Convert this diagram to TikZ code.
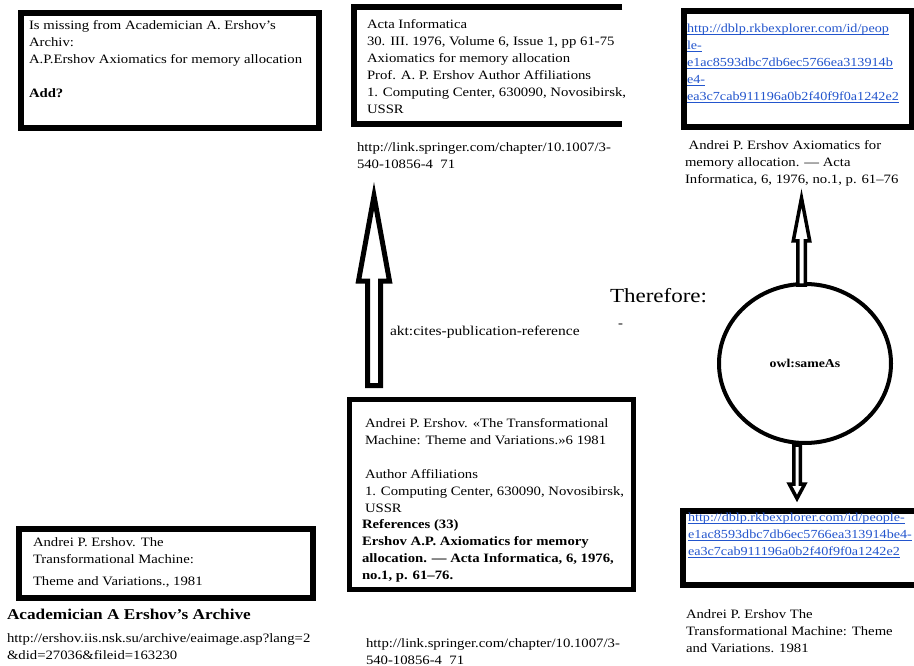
\documentclass[tikz,border=0pt]{standalone}
\usepackage{fontspec}
\setmainfont{Liberation Serif}[FakeStretch=1.15]
\usetikzlibrary{calc,shapes.geometric}
\definecolor{linkblue}{RGB}{35,85,205}
\newcommand\txtblk[1]{\begin{tabular}[t]{@{}l@{}}#1\end{tabular}}
\newcommand\bodyfont{\fontsize{12.8}{17}\selectfont}
\newcommand\linkfont{\fontsize{12.3}{17}\selectfont}
\newcommand\lnk[1]{\textcolor{linkblue}{\setbox0\hbox{#1}\rlap{\rule[-2.3pt]{\wd0}{0.8pt}}\box0}}
\newcommand\blockarrow[6]{%
  \draw[#1] ($(#2)+(-#4,0)$) -- ($(#3)+(-#4,#6)$) -- ($(#3)+(-#5,#6)$) -- (#3)
    -- ($(#3)+(#5,#6)$) -- ($(#3)+(#4,#6)$) -- ($(#2)+(#4,0)$) -- cycle;}
\tikzset{
  txt/.style={anchor=base west, inner sep=0pt, outer sep=0pt, font=\bodyfont},
  boxnode/.style={draw, line width=#1, anchor=north west, inner sep=0pt, line join=miter},
  boxnode/.default=6pt,
  frame/.style={draw=none, anchor=north west, inner sep=0pt},
  sideline/.style={line width=6pt, line join=miter},
  blk/.style={draw=black, fill=white, line width=#1, line join=miter, miter limit=20},
  blk/.default=5pt
}
\begin{document}
\begin{tikzpicture}[x=1pt,y=-1pt]
\useasboundingbox (0,0) rectangle (914,666);
\fill[white] (0,0) rectangle (914,666);
\clip (0,0) rectangle (914,666);

% boxes
\node[boxnode, minimum width=298pt, minimum height=115pt] (b1) at (18,10) {};
\node[frame, minimum width=268pt, minimum height=117pt] (b2) at (354,7) {};
\draw[sideline] (b2.north east) -- (b2.north west) -- (b2.south west) -- (b2.south east);
\node[boxnode, minimum width=228pt, minimum height=116pt] (b3) at (681,8) {};
\node[boxnode=5pt, minimum width=284pt, minimum height=190pt] (b4) at (346.5,396.5) {};
\node[boxnode=5.5pt, minimum width=294pt, minimum height=69pt] (b5) at (16,526) {};
\node[boxnode, minimum width=250pt, minimum height=74pt] (b6) at (680,508) {};

% circle
\node[draw, ellipse, line width=4pt, minimum width=172pt, minimum height=159pt, inner sep=0pt,
      font=\fontsize{12}{14}\selectfont\bfseries] (same) at (805,363.5) {owl:sameAs};

% texts
\node[txt] (t1) at (29,30) {\txtblk{Is missing from Academician A. Ershov's\\ Archiv:\\ A.P.Ershov Axiomatics for memory allocation\\ \\ \textbf{Add?}}};
\node[txt] (t2) at (367,29) {\txtblk{Acta Informatica\\ 30. III. 1976, Volume 6, Issue 1, pp 61-75\\ Axiomatics for memory allocation\\ Prof. A. P. Ershov Author Affiliations\\ 1. Computing Center, 630090, Novosibirsk,\\ USSR}};
\node[txt] (u2) at (357,152) {\txtblk{http://link.springer.com/chapter/10.1007/3-\\ 540-10856-4\ \ 71}};
\node[txt, font=\linkfont] (t3) at (687,33) {\txtblk{\lnk{http://dblp.rkbexplorer.com/id/peop}\\ \lnk{le-}\\ \lnk{e1ac8593dbc7db6ec5766ea313914b}\\ \lnk{e4-}\\ \lnk{ea3c7cab911196a0b2f40f9f0a1242e2}}};
\node[txt] (c3) at (685,150) {\txtblk{\ Andrei P. Ershov Axiomatics for\\ memory allocation. — Acta\\ Informatica, 6, 1976, no.1, p. 61–76}};
\node[txt, font=\fontsize{13.5}{16}\selectfont] (akt) at (390,335) {akt:cites-publication-reference};
\node[txt] (dash) at (618,327) {-};
\node[txt, font=\fontsize{20}{24}\selectfont] (ther) at (610,302) {Therefore:};
\node[txt] (t4) at (365,427) {\txtblk{Andrei P. Ershov. «The Transformational\\ Machine: Theme and Variations.»6 1981\\ \\ Author Affiliations\\ 1. Computing Center, 630090, Novosibirsk,\\ USSR}};
\node[txt, font=\bodyfont\bfseries] (t4b) at (362,528) {\txtblk{References (33)\\ Ershov A.P. Axiomatics for memory\\ allocation. — Acta Informatica, 6, 1976,\\ no.1, p. 61–76.}};
\node[txt] (u4) at (366,647) {\txtblk{http://link.springer.com/chapter/10.1007/3-\\ 540-10856-4\ \ 71}};
\node[txt] (t5) at (33,546) {\txtblk{Andrei P. Ershov. The\\ Transformational Machine:\\[5pt] Theme and Variations., 1981}};
\node[txt, font=\fontsize{15}{18}\selectfont\bfseries] (h5) at (7,619) {Academician A Ershov's Archive};
\node[txt] (u5) at (7,642) {\txtblk{http://ershov.iis.nsk.su/archive/eaimage.asp?lang=2\\ \&did=27036\&fileid=163230}};
\node[txt, font=\linkfont] (t6) at (688,521) {\txtblk{\lnk{http://dblp.rkbexplorer.com/id/people-}\\ \lnk{e1ac8593dbc7db6ec5766ea313914be4-}\\ \lnk{ea3c7cab911196a0b2f40f9f0a1242e2}}};
\node[txt] (c6) at (686,618) {\txtblk{Andrei P. Ershov The\\ Transformational Machine: Theme\\ and Variations. 1981}};

% block arrows
\coordinate (a1tail) at (374,385.5);
\coordinate (a1tip) at (374,196);
\blockarrow{blk}{a1tail}{a1tip}{6.5}{15.5}{85}
\coordinate (a2tail) at (801.5,285);
\coordinate (a2tip) at (801.5,198);
\blockarrow{blk=3.5pt}{a2tail}{a2tip}{3.75}{8.25}{43}
\coordinate (a3tail) at (797,445);
\coordinate (a3tip) at (797,498.5);
\blockarrow{blk=3.5pt}{a3tail}{a3tip}{3.25}{7.75}{-14.5}
\end{tikzpicture}
\end{document}
